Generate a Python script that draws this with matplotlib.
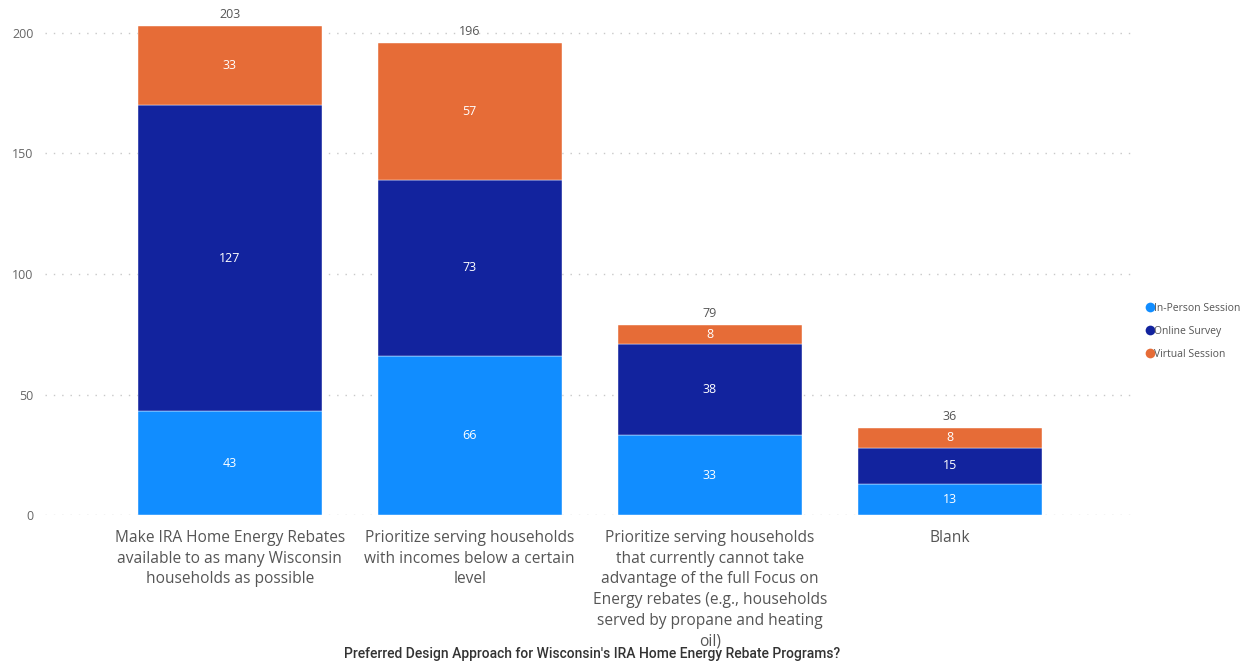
import matplotlib.pyplot as plt
from matplotlib.lines import Line2D
import numpy as np

plt.rcParams["font.family"] = ["Open Sans", "DejaVu Sans"]

categories = [
    "Make IRA Home Energy Rebates\navailable to as many Wisconsin\nhouseholds as possible",
    "Prioritize serving households\nwith incomes below a certain\nlevel",
    "Prioritize serving households\nthat currently cannot take\nadvantage of the full Focus on\nEnergy rebates (e.g., households\nserved by propane and heating\noil)",
    "Blank",
]
in_person = [43, 66, 33, 13]
online = [127, 73, 38, 15]
virtual = [33, 57, 8, 8]

series = [("In-Person Session", in_person, "#118DFF"),
          ("Online Survey", online, "#12239E"),
          ("Virtual Session", virtual, "#E66C37")]

fig = plt.figure(figsize=(12.47, 6.66), dpi=100)
ax = fig.add_axes([0.036, 0.2267, 0.874, 0.76])

x = np.arange(len(categories))
bottom = np.zeros(len(categories))
for name, vals, col in series:
    ax.bar(x, vals, width=0.767, bottom=bottom, color=col, label=name,
           edgecolor="white", linewidth=0.3, zorder=2)
    for xi, b, v in zip(x, bottom, vals):
        ax.text(xi, b + v / 2, str(v), ha="center", va="center",
                color="white", fontsize=9)
    bottom += np.array(vals)

for xi, t in zip(x, bottom):
    ax.text(xi, t + 2, str(int(t)), ha="center", va="bottom",
            color="#555555", fontsize=9)

ax.set_xlim(-0.77, 3.77)
ax.set_ylim(0, 210)
ax.set_yticks([0, 50, 100, 150, 200])
ax.yaxis.grid(True, linestyle=(0, (1, 5)), color="#c8c8c8", linewidth=1, zorder=0)
ax.tick_params(axis="y", length=0, labelsize=9, labelcolor="#666666", pad=8)
ax.tick_params(axis="x", length=0, labelsize=11.2, labelcolor="#555555", pad=11)
ax.set_xticks(x)
ax.set_xticklabels(categories, linespacing=1.38, va="top")
for s in ax.spines.values():
    s.set_visible(False)

handles = [Line2D([], [], marker="o", linestyle="none", markersize=7,
                  markerfacecolor=c, markeredgecolor="none") for _, _, c in series]
ax.legend(handles, [n for n, _, _ in series], loc="center left",
          bbox_to_anchor=(1.006, 0.363), frameon=False,
          fontsize=7.5, labelcolor="#555555", handlelength=0.6,
          handletextpad=0.1, labelspacing=1.15, borderpad=0)

fig.text(0.475, 0.007, "Preferred Design Approach for Wisconsin's IRA Home Energy Rebate Programs?",
         ha="center", va="bottom", fontsize=10, color="#333333",
         fontweight="medium", family=["Roboto", "DejaVu Sans"])

fig.savefig("out.png", dpi=100)
